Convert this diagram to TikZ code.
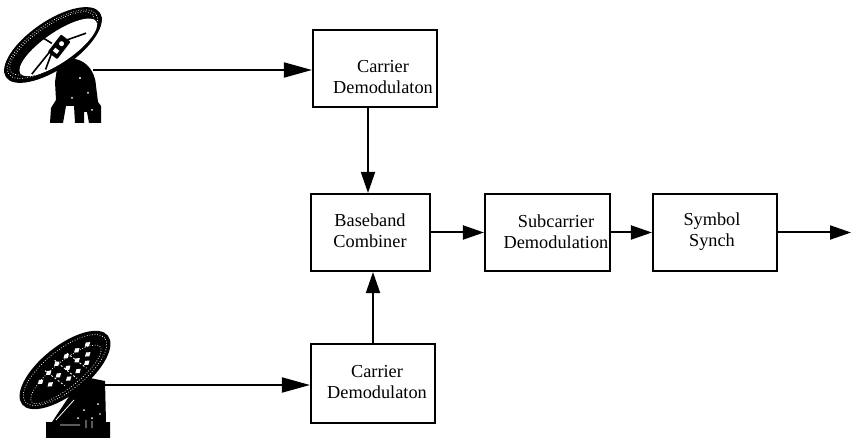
\documentclass[tikz,border=0pt]{standalone}
\usepackage{fontspec}
\setmainfont{Liberation Serif}
\usetikzlibrary{arrows.meta}
\begin{document}
\begin{tikzpicture}[x=1pt,y=-1pt,
 block/.style={draw, line width=2.1pt, inner sep=0pt},
 lbl/.style={font=\fontsize{18.3}{21}\selectfont, align=center, inner sep=0pt},
 conn/.style={line width=2pt, -{Triangle[length=21pt,width=14pt]}},
 inconn/.style={line width=1.8pt, -{Triangle[length=28pt,width=15pt]}},
 mesh/.style={white, line width=0.7pt, dash pattern=on 0.8pt off 1.8pt}]
\useasboundingbox (0,0) rectangle (851,438);

% ---------- blocks ----------
\node[block, minimum width=124pt, minimum height=77pt] (cd1) at (375,68.5) {};
\node[block, minimum width=119pt, minimum height=77pt] (bb)  at (370.5,232.5) {};
\node[block, minimum width=125pt, minimum height=77pt] (sc)  at (547.5,232.5) {};
\node[block, minimum width=124pt, minimum height=77pt] (ss)  at (715,232.5) {};
\node[block, minimum width=124pt, minimum height=79pt] (cd2) at (373,383.5) {};

\node[lbl] (t1) at (383,77) {Carrier\\Demodulaton};
\node[lbl] (t2) at (370,231) {Baseband\\Combiner};
\node[lbl] (t3) at (556,232) {Subcarrier\\Demodulation};
\node[lbl] (t4) at (712,232) {Symbol\\Synch};
\node[lbl] (t5) at (377,382) {Carrier\\Demodulaton};

% ---------- antenna 1 (top) ----------
\fill (58,62) .. controls (78,52) and (95,66) .. (96,86) -- (98,102) -- (101,106)
  -- (101,123) -- (89,123) -- (87,112) -- (84,112) -- (84,123) -- (75,123)
  -- (74,106) -- (66,106) -- (63,123) -- (50,123) -- (51,108) -- (56,100)
  -- (55,82) -- cycle;
\fill[white] (80,78) circle (1.2pt) (88,93) circle (1pt) (72,98) circle (1pt)
  (92,110) circle (1pt);
\begin{scope}[shift={(53,45)}, rotate=34.5]
  \fill (0,0) ellipse [x radius=57pt, y radius=24pt];
  \draw[mesh] (0,-1) ellipse [x radius=53pt, y radius=20pt];
  \draw[mesh] (0,-2) ellipse [x radius=50pt, y radius=17pt];
  \fill[white] (3,5) ellipse [x radius=46pt, y radius=15pt];
  \draw[line width=1.6pt] (-34,12) -- (-4,3) (34,9) -- (8,2) (-4,-11) -- (0,-2)
    (-20,16) -- (-3,4);
  \begin{scope}[shift={(4,5)}, rotate=-72]
    \fill[rounded corners=1pt] (-6,-11) rectangle (6,11);
    \fill[white] (0,-4) circle (2.5pt);
    \fill[white] (-2.5,3) rectangle (2.5,7);
  \end{scope}
\end{scope}
\coordinate (ant1) at (93,70);

% ---------- antenna 2 (bottom) ----------
\fill (72,392) -- (90,378) -- (105,381) -- (106,422) -- (110,422) -- (110,438)
  -- (46,438) -- (46,422) -- (52,422) -- cycle;
\fill[white] (84,410) circle (1pt) (92,418) circle (1pt) (78,418) circle (1pt)
  (98,404) circle (1pt) (100,414) circle (0.9pt);
\draw[white, line width=0.8pt] (56,420) -- (74,400) (86,428) -- (86,420)
  (92,428) -- (92,421) (60,425) -- (80,425);
\begin{scope}[shift={(65,370)}, rotate=38.7]
  \fill (0,0) ellipse [x radius=55pt, y radius=24pt];
  \draw[mesh] (0,0) ellipse [x radius=51pt, y radius=20pt];
  \draw[mesh] (-2,4) ellipse [x radius=44pt, y radius=13pt];
  \foreach \a/\b in {-30/-6,-18/-8,-6/-10,6/-10,18/-8,30/-6,
                     -24/2,-12/0,0/0,12/0,24/2,-6/9,6/9,18/8}
    \fill[white] (\a,\b) -- ++(3.5,-2.5) -- ++(3.5,2.5) -- ++(-3.5,2.5) -- cycle;
  \draw[white, line width=0.9pt, dash pattern=on 2pt off 2pt] (-2,-14) -- (4,14)
    (-16,-12) -- (-10,12) (12,-12) -- (18,12);
\end{scope}
\coordinate (ant2) at (100,385);

% ---------- connectors ----------
\coordinate (out) at (851,232.5);
\draw[inconn] (ant1) -- (ant1 -| cd1.west);
\draw[inconn] (ant2) -- (ant2 -| cd2.west);
\draw[conn] ([xshift=-7pt]cd1.south) -- ([xshift=-7pt]cd1.south |- bb.north);
\draw[conn] (cd2.north) -- (cd2.north |- bb.south);
\draw[conn] (bb.east) -- (sc.west);
\draw[conn] (sc.east) -- (ss.west);
\draw[conn] (ss.east) -- (out);
\end{tikzpicture}
\end{document}
